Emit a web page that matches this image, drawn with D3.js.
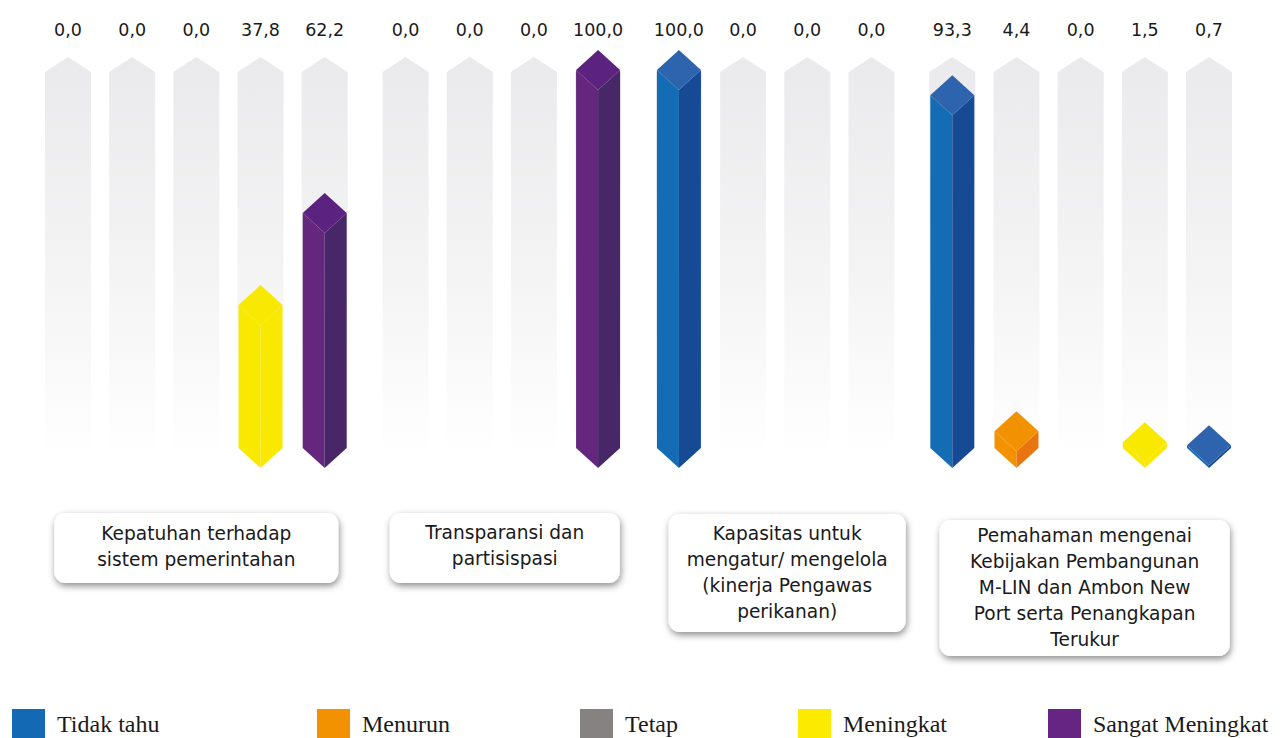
<!DOCTYPE html>
<html>
<head>
<meta charset="utf-8">
<script src="https://cdn.jsdelivr.net/npm/d3@7"></script>
<style>
  html, body { margin: 0; padding: 0; background: #ffffff; }
  svg { display: block; }
</style>
</head>
<body>
<svg id="chart" width="1282" height="738"></svg>
<script>
// ---- Data -------------------------------------------------------------
const seriesNames = ["Tidak tahu", "Menurun", "Tetap", "Meningkat", "Sangat Meningkat"];
const seriesColors = ["#1469b4", "#f39200", "#858281", "#fcea00", "#662483"];

const categoryLines = [
  ["Kepatuhan terhadap", "sistem pemerintahan"],
  ["Transparansi dan", "partisispasi"],
  ["Kapasitas untuk", "mengatur/ mengelola", "(kinerja Pengawas", "perikanan)"],
  ["Pemahaman mengenai", "Kebijakan Pembangunan", "M-LIN dan Ambon New", "Port serta Penangkapan", "Terukur"]
];

// values (percent) and the series each bar belongs to, per category
const kepatuhanValues    = [0.0, 0.0, 0.0, 37.8, 62.2];
const kepatuhanSeries    = ["Tidak tahu", "Menurun", "Tetap", "Meningkat", "Sangat Meningkat"];
const transparansiValues = [0.0, 0.0, 0.0, 100.0];
const transparansiSeries = ["Menurun", "Tetap", "Meningkat", "Sangat Meningkat"];
const kapasitasValues    = [100.0, 0.0, 0.0, 0.0];
const kapasitasSeries    = ["Tidak tahu", "Menurun", "Tetap", "Meningkat"];
const pemahamanValues    = [93.3, 4.4, 0.0, 1.5, 0.7];
const pemahamanSeries    = ["Tidak tahu", "Menurun", "Tetap", "Meningkat", "Tidak tahu"];

const groupValues = [kepatuhanValues, transparansiValues, kapasitasValues, pemahamanValues];
const groupSeries = [kepatuhanSeries, transparansiSeries, kapasitasSeries, pemahamanSeries];

// ---- Layout -----------------------------------------------------------
const groupGap = 0.26;          // extra slot space between category groups
const barHalf = 22;             // half width of a prism
const capDepth = 20;            // height of the diamond cap / bottom point
const trackHalf = 23;
const boxWidths  = [284, 230, 237, 290];
const boxShift   = [0, 3, 12, 4];
const boxTops    = [513, 513, 514, 520];
const boxHeights = [70, 70, 118, 136];
const firstLine  = [533, 532, 533, 535];
const lineHeight = 26;
const legendX = [12, 317, 580, 798, 1048];

// faces: [left, right, top]
const faceColors = {
  "Tidak tahu":       ["#136cb4", "#174a95", "#2d64ad"],
  "Menurun":          ["#f39200", "#e8750f", "#f39200"],
  "Tetap":            ["#858281", "#6e6b6a", "#939090"],
  "Meningkat":        ["#f9e800", "#f9e800", "#f9e800"],
  "Sangat Meningkat": ["#65267d", "#472768", "#5b2280"]
};

// flatten bars with slot positions
const bars = [];
let idx = 0;
groupValues.forEach((vals, g) => {
  vals.forEach((v, i) => {
    bars.push({ group: g, value: v, series: groupSeries[g][i], slot: idx + g * groupGap });
    idx++;
  });
});
const lastSlot = d3.max(bars, d => d.slot);

const x = d3.scaleLinear().domain([0, lastSlot]).range([68, 1209]);
const y = d3.scaleLinear().domain([0, 100]).range([448, 70]);
const fmt = v => d3.format(".1f")(v).replace(".", ",");

const svg = d3.select("#chart");
const defs = svg.append("defs");

const grad = defs.append("linearGradient")
  .attr("id", "trackFade").attr("gradientUnits", "userSpaceOnUse")
  .attr("x1", 0).attr("y1", y(100) - 13).attr("x2", 0).attr("y2", y(0) + 10);
grad.append("stop").attr("offset", 0).attr("stop-color", "#eaeaec");
grad.append("stop").attr("offset", 0.55).attr("stop-color", "#f4f4f5");
grad.append("stop").attr("offset", 1).attr("stop-color", "#ffffff");

const shadow = defs.append("filter").attr("id", "boxShadow")
  .attr("x", "-10%").attr("y", "-20%").attr("width", "120%").attr("height", "150%");
shadow.append("feDropShadow").attr("dx", 1).attr("dy", 3)
  .attr("stdDeviation", 3.5).attr("flood-color", "#000").attr("flood-opacity", 0.45);

// ---- Background tracks (100% columns) --------------------------------
svg.append("g").selectAll("path").data(bars).join("path")
  .attr("d", d => {
    const cx = x(d.slot), top = y(100) + 2;
    return `M${cx - trackHalf},${y(0) + 10} L${cx - trackHalf},${top} L${cx},${top - 15} ` +
           `L${cx + trackHalf},${top} L${cx + trackHalf},${y(0) + 10} Z`;
  })
  .attr("fill", "url(#trackFade)");

// ---- Prism bars -------------------------------------------------------
const prism = svg.append("g").selectAll("g").data(bars.filter(d => d.value > 0)).join("g");
const base = y(0);
prism.append("path").attr("fill", d => faceColors[d.series][0])
  .attr("d", d => {
    const cx = x(d.slot), t = y(d.value);
    return `M${cx - barHalf},${t} L${cx},${t + capDepth} L${cx},${base + capDepth} L${cx - barHalf},${base} Z`;
  });
prism.append("path").attr("fill", d => faceColors[d.series][1])
  .attr("d", d => {
    const cx = x(d.slot), t = y(d.value);
    return `M${cx},${t + capDepth} L${cx + barHalf},${t} L${cx + barHalf},${base} L${cx},${base + capDepth} Z`;
  });
prism.append("path").attr("fill", d => faceColors[d.series][2])
  .attr("d", d => {
    const cx = x(d.slot), t = y(d.value);
    return `M${cx},${t - capDepth} L${cx + barHalf},${t} L${cx},${t + capDepth} L${cx - barHalf},${t} Z`;
  });

// ---- Value labels -----------------------------------------------------
svg.append("g").selectAll("text").data(bars).join("text")
  .attr("x", d => x(d.slot)).attr("y", 36)
  .attr("text-anchor", "middle")
  .attr("font-family", "'DejaVu Sans', sans-serif")
  .attr("font-size", 17.5)
  .attr("fill", "#1a1a1a")
  .text(d => fmt(d.value));

// ---- Category boxes ---------------------------------------------------
const groupCenters = categoryLines.map((_, g) => {
  const s = bars.filter(b => b.group === g);
  return (x(s[0].slot) + x(s[s.length - 1].slot)) / 2 + boxShift[g];
});

const boxes = svg.append("g").selectAll("g").data(categoryLines).join("g");
boxes.append("rect")
  .attr("x", (d, g) => groupCenters[g] - boxWidths[g] / 2)
  .attr("y", (d, g) => boxTops[g])
  .attr("width", (d, g) => boxWidths[g])
  .attr("height", (d, g) => boxHeights[g])
  .attr("rx", 11)
  .attr("fill", "#ffffff")
  .attr("filter", "url(#boxShadow)");
boxes.each(function (lines, g) {
  d3.select(this).selectAll("text").data(lines).join("text")
    .attr("x", groupCenters[g])
    .attr("y", (l, i) => firstLine[g] + i * lineHeight)
    .attr("dy", "0.35em")
    .attr("text-anchor", "middle")
    .attr("font-family", "'DejaVu Sans', sans-serif")
    .attr("font-size", 18.6)
    .attr("fill", "#1a1a1a")
    .text(l => l);
});

// ---- Legend -----------------------------------------------------------
const legend = svg.append("g").selectAll("g").data(seriesNames).join("g")
  .attr("transform", (d, i) => `translate(${legendX[i]},0)`);
legend.append("rect").attr("x", 0).attr("y", 709).attr("width", 33).attr("height", 33)
  .attr("fill", (d, i) => seriesColors[i]);
legend.append("text").attr("x", 45).attr("y", 732)
  .attr("font-family", "'Liberation Serif', serif")
  .attr("font-size", 24)
  .attr("fill", "#1a1a1a")
  .text(d => d);
</script>
</body>
</html>
